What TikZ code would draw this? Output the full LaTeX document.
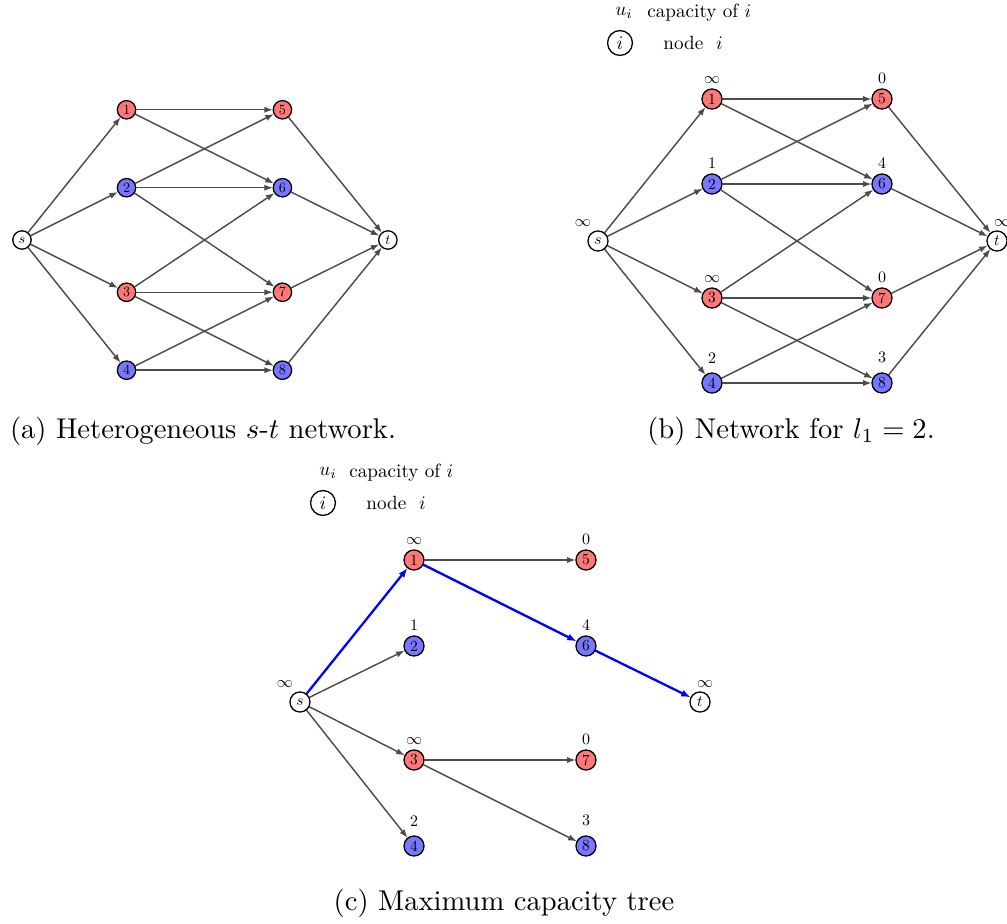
\documentclass[tikz,border=0pt]{standalone}
\usepackage{amsmath}
\usepackage{tikz}
\usetikzlibrary{arrows.meta}

\definecolor{nred}{RGB}{255,119,119}
\definecolor{nblue}{RGB}{119,119,255}
\definecolor{edgegray}{RGB}{75,75,75}

\tikzset{
  vtx/.style={circle, draw=black, line width=0.45pt, inner sep=0pt,
    minimum size=13pt, font=\normalsize, scale=0.54, transform shape},
  rednode/.style={vtx, fill=nred},
  bluenode/.style={vtx, fill=nblue},
  endnode/.style={vtx, fill=white},
  lbl/.style={font=\normalsize, inner sep=0.5pt, scale=0.56, transform shape},
  arc/.style={-{Latex[length=3pt,width=2.2pt]}, draw=edgegray, line width=0.5pt},
  patharc/.style={-{Latex[length=3.3pt,width=2.5pt]}, draw=blue, line width=0.8pt},
  legend/.style={font=\normalsize, inner sep=0pt, anchor=west, scale=0.67, transform shape},
  legendcirc/.style={circle, draw=black, line width=0.45pt, inner sep=0pt,
    minimum size=13pt, font=\normalsize, scale=0.67, transform shape},
  caption/.style={font=\normalsize, inner sep=0pt},
}

\begin{document}
\begin{tikzpicture}[x=0.0123cm, y=-0.0123cm]
\useasboundingbox (0,0) rectangle (1007,924);

% (a) heterogeneous network
\begin{scope}[shift={(22,240)}, scale=0.917, name prefix=a-]
\node[endnode] (s) at (0,0) {$s$};
\node[endnode] (t) at (399,0) {$t$};
\foreach \nm/\px/\py/\sty in {1/114/-142/rednode, 2/114/-57/bluenode,
    3/114/57/rednode, 4/114/142/bluenode, 5/284/-142/rednode,
    6/284/-57/bluenode, 7/284/57/rednode, 8/284/142/bluenode}
  \node[\sty] (\nm) at (\px,\py) {\nm};
\foreach \a/\b in {s/1, s/2, s/3, s/4, 1/5, 1/6, 2/5, 2/6, 2/7,
    3/6, 3/7, 3/8, 4/7, 4/8, 5/t, 6/t, 7/t, 8/t}
  \draw[arc] (\a) -- (\b);
\end{scope}
\node[caption] (capa) at (203,431) {(a) Heterogeneous $s$-$t$ network.};

% (b) network for l_1 = 2
\begin{scope}[shift={(598,241)}, name prefix=b-]
\node[legend, anchor=center] (ui) at (26,-228) {$u_i$};
\node[legend] (capdesc) at (49,-228) {capacity of $i$};
\node[legendcirc] (icirc) at (22,-198) {$i$};
\node[legend] (nodedesc) at (65,-198) {node\ \ $i$};
\node[endnode, label={[xshift=-5.3pt, lbl, label distance=2pt]above:$\infty$}] (s) at (0,0) {$s$};
\node[endnode, label={[xshift=1.8pt, lbl, label distance=2pt]above:$\infty$}] (t) at (399,0) {$t$};
\foreach \nm/\px/\py/\sty/\cp/\ld in {1/114/-142/rednode/$\infty$/2.2pt,
    2/114/-57/bluenode/1/2.2pt, 3/114/57/rednode/$\infty$/2.2pt,
    4/114/142/bluenode/2/5.2pt, 5/284/-142/rednode/0/2.2pt,
    6/284/-57/bluenode/4/2.2pt, 7/284/57/rednode/0/2.2pt,
    8/284/142/bluenode/3/5.2pt}
  \node[\sty, label={[lbl, label distance=\ld]above:\cp}] (\nm) at (\px,\py) {\nm};
\foreach \a/\b in {s/1, s/2, s/3, s/4, 1/5, 1/6, 2/5, 2/6, 2/7,
    3/6, 3/7, 3/8, 4/7, 4/8, 5/t, 6/t, 7/t, 8/t}
  \draw[arc] (\a) -- (\b);
\end{scope}
\node[caption] (capb) at (791,431) {(b) Network for $l_1 = 2$.};

% (c) maximum capacity tree
\begin{scope}[shift={(300,702)}, name prefix=c-]
\node[legend, anchor=center] (ui) at (28,-229) {$u_i$};
\node[legend] (capdesc) at (49,-229) {capacity of $i$};
\node[legendcirc] (icirc) at (23,-199) {$i$};
\node[legend] (nodedesc) at (66,-199) {node\ \ $i$};
\node[endnode, label={[xshift=-5.3pt, lbl, label distance=2pt]above:$\infty$}] (s) at (0,0) {$s$};
\node[endnode, label={[xshift=1.8pt, lbl, label distance=2pt]above:$\infty$}] (t) at (400,0) {$t$};
\foreach \nm/\px/\py/\sty/\cp/\ld in {1/114/-142/rednode/$\infty$/2.2pt,
    2/114/-56/bluenode/1/2.2pt, 3/114/58/rednode/$\infty$/2.2pt,
    4/114/144/bluenode/2/5.2pt, 5/286/-142/rednode/0/2.2pt,
    6/286/-56/bluenode/4/2.2pt, 7/286/58/rednode/0/2.2pt,
    8/286/144/bluenode/3/5.2pt}
  \node[\sty, label={[lbl, label distance=\ld]above:\cp}] (\nm) at (\px,\py) {\nm};
\foreach \a/\b in {s/2, s/3, s/4, 1/5, 3/7, 3/8}
  \draw[arc] (\a) -- (\b);
% path to t
\foreach \a/\b in {s/1, 1/6, 6/t}
  \draw[patharc] (\a) -- (\b);
\end{scope}
\node[caption] (capc) at (504,903) {(c) Maximum capacity tree};
\end{tikzpicture}
\end{document}
